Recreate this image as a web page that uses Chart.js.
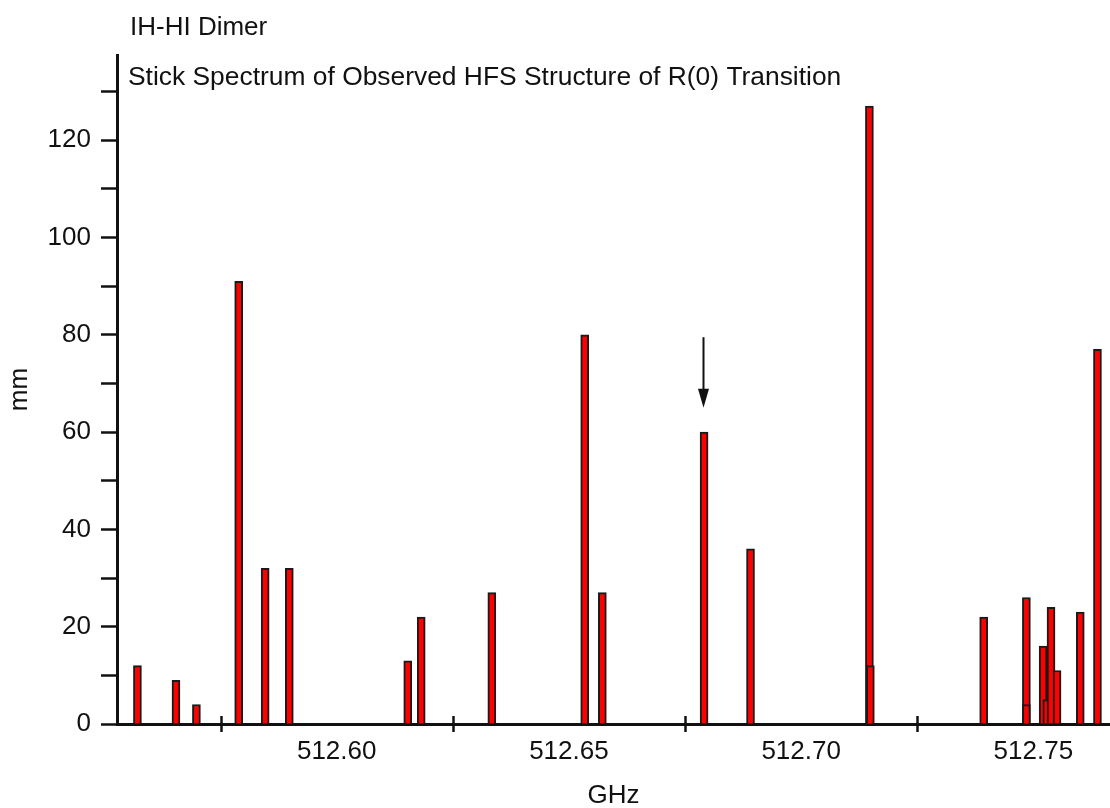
<!DOCTYPE html>
<html>
<head>
<meta charset="utf-8">
<title>IH-HI Dimer</title>
<script src="https://cdn.jsdelivr.net/npm/chart.js@4.4.1/dist/chart.umd.min.js"></script>
<style>
  html, body { margin: 0; padding: 0; background: #ffffff; }
  #wrap { width: 1110px; height: 808px; position: relative; }
</style>
</head>
<body>
<div id="wrap"><canvas id="spectrum"></canvas></div>
<script>
// Line positions of the observed hyperfine components (GHz)
const frequencies = [
  512.5571, 512.5654, 512.5698, 512.5789, 512.5846, 512.5898,
  512.6153, 512.6182, 512.6334, 512.6534, 512.6572, 512.6791,
  512.6891, 512.7147, 512.7149, 512.7393, 512.7485, 512.7485,
  512.7521, 512.7529, 512.7538, 512.7551, 512.7601, 512.7638
];
// Stick heights (mm)
const intensities = [
  12, 9, 4, 91, 32, 32,
  13, 22, 27, 80, 27, 60,
  36, 127, 12, 22, 26, 4,
  16, 5, 24, 11, 23, 77
];
// Labelled x ticks and the unlabelled tick marks between them
const xLabelTicks = [512.60, 512.65, 512.70, 512.75];
const xMarkTicks = [512.575, 512.625, 512.675, 512.725];
const xRange = [512.5527, 512.7665];
const yRange = [0, 137.5];
// Arrow marking the line at 512.6791 GHz: tail and tip heights (mm)
const arrowFreq = 512.6791;
const arrowFrom = 79.5;
const arrowTo = 65;

const FONT = '"Liberation Sans", Arial, sans-serif';
const INK = '#111111';

const points = frequencies.map((f, i) => ({ x: f, y: intensities[i] }));

const annotations = {
  id: 'annotations',
  afterDraw(chart) {
    const { ctx, chartArea, scales } = chart;
    const xs = scales.x, ys = scales.y;
    ctx.save();
    // tick marks crossing the x axis
    ctx.strokeStyle = INK;
    ctx.lineWidth = 2.5;
    xMarkTicks.forEach(v => {
      const px = Math.round(xs.getPixelForValue(v)) + 0.5;
      ctx.beginPath();
      ctx.moveTo(px, chartArea.bottom - 8);
      ctx.lineTo(px, chartArea.bottom + 8);
      ctx.stroke();
    });
    // arrow
    const ax = Math.round(xs.getPixelForValue(arrowFreq)) - 0.5;
    const ay0 = ys.getPixelForValue(arrowFrom);
    const ay1 = ys.getPixelForValue(arrowTo);
    ctx.lineWidth = 2;
    ctx.beginPath();
    ctx.moveTo(ax, ay0);
    ctx.lineTo(ax, ay1 - 16);
    ctx.stroke();
    ctx.fillStyle = INK;
    ctx.beginPath();
    ctx.moveTo(ax - 5.5, ay1 - 19);
    ctx.lineTo(ax + 5.5, ay1 - 19);
    ctx.lineTo(ax, ay1);
    ctx.closePath();
    ctx.fill();
    // headings
    ctx.fillStyle = INK;
    ctx.textBaseline = 'alphabetic';
    ctx.textAlign = 'left';
    ctx.font = '26px ' + FONT;
    ctx.fillText('IH-HI Dimer', 130, 35);
    ctx.font = '26.4px ' + FONT;
    ctx.fillText('Stick Spectrum of Observed HFS Structure of R(0) Transition', 128, 85);
    ctx.restore();
  }
};

new Chart(document.getElementById('spectrum'), {
  type: 'bar',
  data: {
    datasets: [{
      data: points,
      backgroundColor: '#ff0000',
      borderColor: '#1a1a1a',
      borderWidth: 2,
      borderSkipped: 'start',
      barThickness: 8,
      grouped: false
    }]
  },
  options: {
    responsive: true,
    maintainAspectRatio: false,
    animation: false,
    layout: { padding: { top: 55, right: 0, bottom: 0, left: 0 } },
    plugins: {
      legend: { display: false },
      tooltip: { enabled: false },
      title: { display: false }
    },
    scales: {
      x: {
        type: 'linear',
        offset: false,
        min: xRange[0],
        max: xRange[1],
        afterBuildTicks(scale) {
          scale.ticks = xLabelTicks.map(v => ({ value: v }));
        },
        afterFit(scale) { scale.height = 84; },
        ticks: {
          color: INK,
          font: { family: FONT, size: 26 },
          padding: 12,
          maxRotation: 0,
          autoSkip: false,
          callback: v => v.toFixed(2)
        },
        grid: { display: true, drawOnChartArea: false, drawTicks: false, color: 'rgba(0,0,0,0)' },
        border: { display: true, color: INK, width: 3 },
        title: {
          display: true,
          text: 'GHz',
          color: INK,
          font: { family: FONT, size: 26, lineHeight: 0.9 },
          padding: 0
        }
      },
      y: {
        type: 'linear',
        min: yRange[0],
        max: yRange[1],
        afterBuildTicks(scale) {
          const t = [];
          for (let v = 0; v <= yRange[1]; v += 10) t.push({ value: v });
          scale.ticks = t;
        },
        afterFit(scale) { scale.width = 117; },
        ticks: {
          color: INK,
          font: { family: FONT, size: 26 },
          padding: 10,
          autoSkip: false,
          callback: v => (v % 20 === 0 ? String(v) : '')
        },
        grid: {
          drawOnChartArea: false,
          drawTicks: true,
          tickLength: 16,
          tickWidth: 2.5,
          tickColor: INK
        },
        border: { display: true, color: INK, width: 3 },
        title: {
          display: true,
          text: 'mm',
          color: INK,
          font: { family: FONT, size: 26, lineHeight: 1.2 },
          padding: { top: 4, bottom: 0 }
        }
      }
    }
  },
  plugins: [annotations]
});
</script>
</body>
</html>
